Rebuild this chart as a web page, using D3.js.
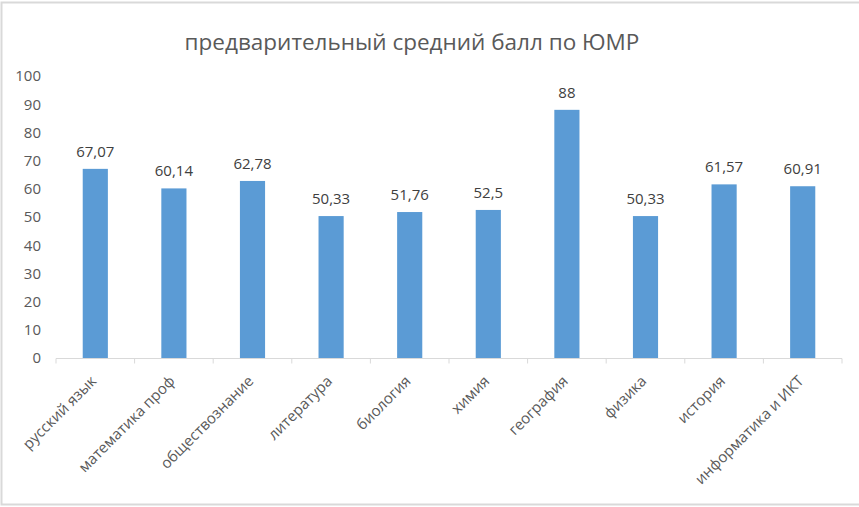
<!DOCTYPE html>
<html><head><meta charset="utf-8">
<script src="https://cdn.jsdelivr.net/npm/d3@7"></script>
<style>body{margin:0;background:#fff}svg{display:block}</style>
</head><body>
<script>
const categories = ["русский язык","математика проф","обществознание","литература","биология","химия","география","физика","история","информатика и ИКТ"];
const values = [67.07,60.14,62.78,50.33,51.76,52.5,88,50.33,61.57,60.91];
const valueLabels = ["67,07","60,14","62,78","50,33","51,76","52,5","88","50,33","61,57","60,91"];
const yTicks = [0,10,20,30,40,50,60,70,80,90,100];
const title = "предварительный средний балл по ЮМР";

const W = 859, H = 507;
const svg = d3.select("body").append("svg").attr("width", W).attr("height", H);
const font = "'Open Sans', sans-serif";

// chart border
svg.append("rect").attr("x",1.5).attr("y",2.5).attr("width",W+10).attr("height",H-5)
  .attr("fill","none").attr("stroke","#d9d9d9").attr("stroke-width",2);

const x = d3.scaleBand().domain(categories).range([56,842]).paddingInner(0.68).paddingOuter(0.34);
const y = d3.scaleLinear().domain([0,100]).range([358,76]);

svg.append("text").attr("x",412).attr("y",50).attr("text-anchor","middle")
  .attr("font-family",font).attr("font-size",22.5).attr("fill","#595959").text(title);

// y axis labels
const ya = svg.append("g").attr("transform","translate(41,0)")
  .call(d3.axisLeft(y).tickValues(yTicks).tickSize(0).tickPadding(0));
ya.select(".domain").remove();
ya.selectAll("text").attr("font-family",font).attr("font-size",15).attr("fill","#595959");

// bars
svg.selectAll("rect.bar").data(values).enter().append("rect").attr("class","bar")
  .attr("x",(d,i)=>x(categories[i])).attr("width",x.bandwidth())
  .attr("y",d=>y(d)).attr("height",d=>y(0)-y(d)).attr("fill","#5b9bd5");

// x axis
const step = x.step();
const xa = svg.append("g").attr("transform","translate(0,358.5)")
  .call(d3.axisBottom(x).tickSize(0).tickPadding(0).tickFormat(""));
xa.select(".domain").attr("stroke","#d9d9d9").attr("d","M56,0H842");
const bounds = d3.range(categories.length+1).map(i=>56+i*step);
xa.selectAll("line.b").data(bounds).enter().append("line").attr("class","b")
  .attr("x1",d=>d).attr("x2",d=>d).attr("y1",0).attr("y2",5).attr("stroke","#d9d9d9");

// category labels
svg.selectAll("text.cat").data(categories).enter().append("text").attr("class","cat")
  .attr("transform",d=>`translate(${x(d)+x.bandwidth()/2+2},${382}) rotate(-45)`)
  .attr("text-anchor","end").attr("font-family",font).attr("font-size",15).attr("fill","#595959")
  .text(d=>d);

// value labels
svg.selectAll("text.val").data(values).enter().append("text").attr("class","val")
  .attr("x",(d,i)=>x(categories[i])+x.bandwidth()/2).attr("y",d=>y(d)-12)
  .attr("text-anchor","middle").attr("font-family",font).attr("font-size",15).attr("fill","#404040")
  .text((d,i)=>valueLabels[i]);
</script>
</body></html>
